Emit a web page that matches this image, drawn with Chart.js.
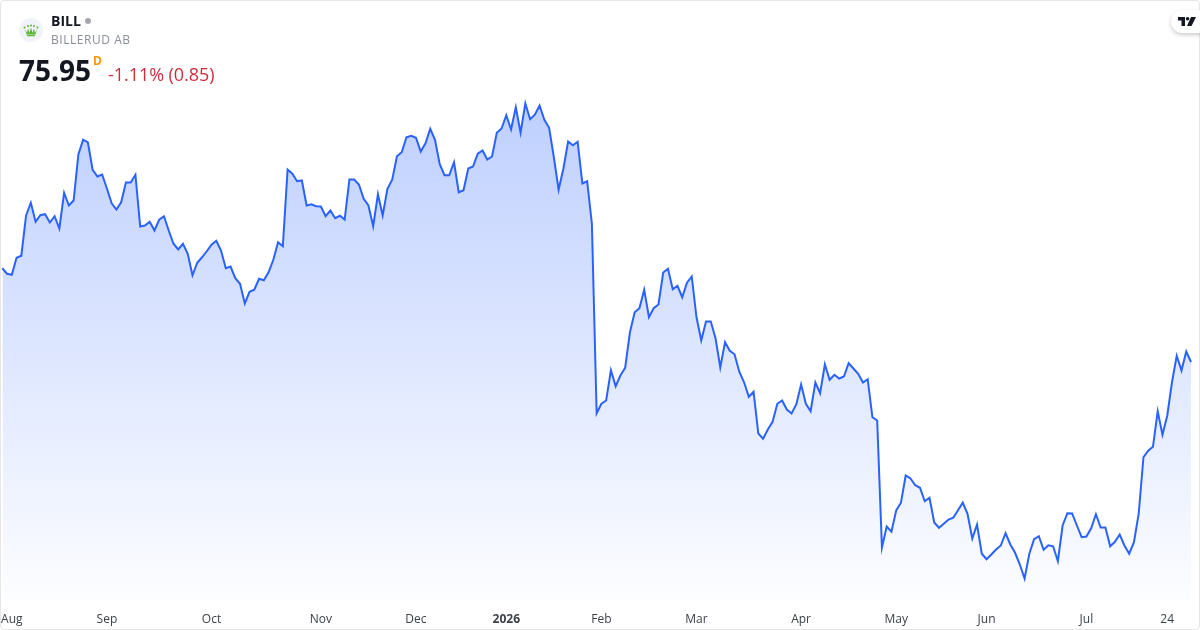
<!DOCTYPE html>
<html>
<head>
<meta charset="utf-8">
<title>BILL</title>
<script src="https://cdn.jsdelivr.net/npm/chart.js@4"></script>
<style>
  html, body { margin: 0; padding: 0; background: #fff; }
  #card { position: relative; width: 1200px; height: 630px; overflow: hidden; font-family: "Open Sans", sans-serif; }
  #frame { position: absolute; left: 0; top: 0; width: 1198px; height: 628px; border: 1px solid #e6e6e6; border-radius: 4px; pointer-events: none; }
  #priceChart { position: absolute; left: 0; top: 0; }
  .txt { position: absolute; white-space: nowrap; line-height: 1; }
  #symbol { left: 51px; top: 14px; font-size: 14px; font-weight: 700; color: #131722; }
  #dot { position: absolute; left: 85px; top: 18px; width: 6px; height: 6px; border-radius: 50%; background: #a3a6af; }
  #company { left: 51px; top: 34px; font-size: 12px; color: #8a8e98; letter-spacing: 0.55px; }
  #price { left: 19px; top: 56px; font-size: 28px; font-weight: 700; color: #131722; }
  #interval { left: 93px; top: 55px; font-size: 12px; font-weight: 700; color: #ff9800; }
  #change { left: 108px; top: 65px; font-size: 18px; letter-spacing: -0.05px; color: #cc2f3c; }
  #logo { position: absolute; left: 19px; top: 18px; }
  #tv { position: absolute; left: 1171px; top: 10px; width: 40px; height: 23px; background: #fff; border-radius: 12px; box-shadow: 0 2px 4px rgba(0,0,0,0.2); }
  #tv svg { position: absolute; left: 7px; top: 7px; }
</style>
</head>
<body>
<div id="card">
  <canvas id="priceChart" width="1200" height="630"></canvas>
  <div id="frame"></div>
  <svg id="logo" width="24" height="24" viewBox="0 0 24 24">
    <circle cx="12" cy="12" r="12" fill="#f0f3fa"/>
    <g fill="#5cb531">
      <circle cx="5.5" cy="9.5" r="1"/><circle cx="9" cy="8" r="1"/><circle cx="12" cy="7.5" r="1"/><circle cx="15" cy="8" r="1"/><circle cx="18.5" cy="9.5" r="1"/>
      <path d="M6 11 L8 15 L9 10.5 L10.5 15 L12 9.5 L13.5 15 L15 10.5 L16 15 L18 11 L16.5 16.5 H7.5 Z"/>
      <rect x="8" y="17" width="8" height="1.2"/>
    </g>
  </svg>
  <div class="txt" id="symbol">BILL</div>
  <div id="dot"></div>
  <div class="txt" id="company">BILLERUD AB</div>
  <div class="txt" id="price">75.95</div>
  <div class="txt" id="interval">D</div>
  <div class="txt" id="change">-1.11% (0.85)</div>
  <div id="tv">
    <svg width="18" height="9" viewBox="0 0 18 9">
      <path d="M0 0 H7 V9 H3.5 V3.5 H0 Z" fill="#131722"/>
      <circle cx="9.6" cy="1.8" r="1.8" fill="#131722"/>
      <path d="M13 0 H18 L13.5 9 H9 Z" fill="#131722"/>
    </svg>
  </div>
</div>
<script>
// closes
const closes = [
  83.45, 83.01, 82.93, 84.29, 84.45, 87.67, 88.69, 87.17, 87.69, 87.77, 87.11, 87.61, 86.63, 89.49, 88.47, 88.87,
  92.55, 93.73, 93.51, 91.33, 90.79, 90.95, 89.83, 88.65, 88.15, 88.73, 90.31, 90.31, 90.93, 86.79, 86.87, 87.17,
  86.47, 87.33, 87.61, 86.47, 85.41, 84.95, 85.41, 84.61, 82.89, 83.89, 84.33, 84.81, 85.33, 85.65, 84.87, 83.45,
  83.59, 82.65, 82.21, 80.63, 81.57, 81.73, 82.61, 82.49, 83.13, 84.13, 85.53, 85.21, 91.35, 91.01, 90.41,
  90.47, 88.47, 88.57, 88.41, 88.39, 87.61, 88.07, 87.45, 87.65, 87.35, 90.55, 90.55, 90.15, 89.01, 88.47, 86.81,
  89.37, 87.67, 89.81, 90.53, 92.41, 92.73, 93.93, 94.05, 93.89, 92.79, 93.45, 94.61, 93.73, 91.77, 90.89, 90.89,
  91.93, 89.53, 89.69, 91.43, 91.59, 92.61, 92.87, 92.15, 92.39, 94.29, 94.63, 95.69, 94.55, 96.33, 94.29, 96.63,
  95.37, 95.73, 96.47, 95.33, 94.69, 92.33, 89.73, 91.41, 93.59, 93.29, 93.57, 90.23, 90.41, 87.01, 71.85,
  72.61, 72.87, 75.29, 74.01, 74.87, 75.49, 78.33, 79.93, 80.25, 81.73, 79.53, 80.25, 80.55, 83.11, 83.41, 81.77,
  82.05, 81.13, 82.29, 82.79, 79.53, 77.67, 79.19, 79.19, 77.85, 75.51, 77.53, 76.85, 76.57, 75.17, 74.33, 73.17,
  73.57, 70.23, 69.81, 70.55, 71.17, 72.61, 72.87, 72.15, 71.83, 72.57, 74.15, 72.61, 72.01, 74.31, 73.45, 75.77,
  74.53, 74.93, 74.63, 74.79, 75.85, 75.43, 75.01, 74.31, 74.57, 71.53, 71.27,
  61.11, 62.79, 62.37, 64.07, 64.69, 66.87, 66.63, 66.09, 65.89, 64.81, 65.09, 63.11, 62.69, 63.01, 63.35, 63.49,
  64.09, 64.69, 63.81, 61.83, 62.95, 60.61, 60.17, 60.55, 60.95, 61.27, 62.25, 61.35, 60.69, 59.75, 58.63, 60.61,
  61.77, 62.01, 60.93, 61.29, 61.21, 60.01, 62.87, 63.85, 63.83, 62.87, 61.93, 61.99, 62.65, 63.77, 62.71, 62.71,
  61.21, 61.57, 62.15, 61.27, 60.61, 61.53, 63.81, 68.33, 68.85, 69.17, 72.01, 70.13, 71.65, 74.33, 76.45, 75.27,
  76.79, 75.95
];
const tickNames = ["Aug", "Sep", "Oct", "Nov", "Dec", "2026", "Feb", "Mar", "Apr", "May", "Jun", "Jul", "24"];
const tickIndexes = [2, 22, 44, 67, 87, 106, 126, 146, 168, 188, 207, 228, 245];

const labels = closes.map(() => "");
tickIndexes.forEach((idx, i) => { labels[idx] = tickNames[i]; });

const canvas = document.getElementById("priceChart");
new Chart(canvas, {
  type: "line",
  data: {
    labels: labels,
    datasets: [{
      data: closes,
      borderColor: "#2962ff",
      borderWidth: 2,
      pointRadius: 0,
      tension: 0,
      fill: "start",
      backgroundColor: function (context) {
        const area = context.chart.chartArea;
        if (!area) return "transparent";
        const grad = context.chart.ctx.createLinearGradient(0, 100, 0, area.bottom);
        grad.addColorStop(0, "rgba(41, 98, 255, 0.3)");
        grad.addColorStop(1, "rgba(41, 98, 255, 0.01)");
        return grad;
      }
    }]
  },
  options: {
    responsive: false,
    animation: false,
    layout: { padding: { left: 2.3, right: 9, top: 0, bottom: 0 } },
    plugins: { legend: { display: false }, tooltip: { enabled: false } },
    scales: {
      x: {
        grid: { display: false },
        border: { display: false },
        afterFit: function (scale) { scale.height = 30; scale.paddingLeft = 0; scale.paddingRight = 0; },
        ticks: {
          autoSkip: false,
          maxRotation: 0,
          padding: 4,
          color: "#3c4049",
          font: function (ctx) {
            const isYear = ctx.tick && ctx.tick.label === "2026";
            return { family: '"Open Sans", sans-serif', size: 12, weight: isYear ? "bold" : "normal" };
          }
        }
      },
      y: { display: false, min: 56.91, max: 104.91 }
    }
  }
});
</script>
</body>
</html>
